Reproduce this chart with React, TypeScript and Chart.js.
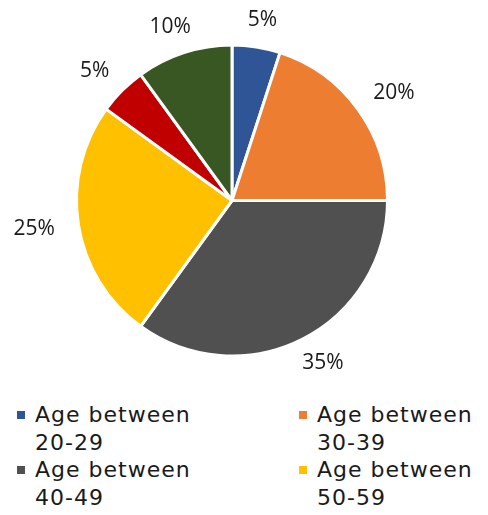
import React, { useEffect, useRef } from "react";
import { Chart, registerables } from "chart.js";

Chart.register(...registerables);

const categories = [
  "Age between 20-29",
  "Age between 30-39",
  "Age between 40-49",
  "Age between 50-59",
  "Age between 60-69",
  "Age 70+",
];
const values = [5, 20, 35, 25, 5, 10];
const colors = ["#2F5597", "#ED7D31", "#505050", "#FFC000", "#C00000", "#385723"];
const legendRows = [
  ["Age between", "20-29"],
  ["Age between", "30-39"],
  ["Age between", "40-49"],
  ["Age between", "50-59"],
];

const labelPlugin = {
  id: "outLabels",
  afterDatasetsDraw(chart: any) {
    const ctx = chart.ctx;
    const meta = chart.getDatasetMeta(0);
    const total = values.reduce((a, b) => a + b, 0);
    ctx.save();
    ctx.font = "21px 'Open Sans', sans-serif";
    ctx.fillStyle = "#1a1a1a";
    ctx.textAlign = "center";
    ctx.textBaseline = "middle";
    meta.data.forEach((arc: any, i: number) => {
      const p = arc.getProps(["x", "y", "startAngle", "endAngle", "outerRadius"], true);
      const mid = (p.startAngle + p.endAngle) / 2;
      const ux = Math.cos(mid);
      const uy = Math.sin(mid);
      const text = Math.round((values[i] / total) * 100) + "%";
      const w = ctx.measureText(text).width;
      const r0 = p.outerRadius + 18;
      const x = p.x + ux * r0 + ux * (w / 2 + 6);
      const y = p.y + uy * r0 + uy * 9;
      ctx.fillText(text, x, y);
    });
    ctx.restore();
  },
};

export default function App() {
  const ref = useRef<HTMLCanvasElement>(null);
  useEffect(() => {
    const chart = new Chart(ref.current!, {
      type: "pie",
      data: {
        labels: categories,
        datasets: [
          {
            data: values,
            backgroundColor: colors,
            borderColor: "#ffffff",
            borderWidth: 3,
          },
        ],
      },
      options: {
        animation: false,
        responsive: false,
        layout: { padding: { top: 35, bottom: 43, left: 67, right: 91 } },
        plugins: {
          legend: { display: false },
          tooltip: { enabled: false },
        },
      },
      plugins: [labelPlugin],
    });
    return () => chart.destroy();
  }, []);

  return (
    <div style={{ width: 472 }}>
      <canvas ref={ref} width={472} height={393} style={{ display: "block" }} />
      <div
        style={{
          display: "grid",
          gridTemplateColumns: "282px 190px",
          fontFamily: "'DejaVu Sans', sans-serif",
          fontSize: 22,
          lineHeight: "27.5px",
          letterSpacing: 1,
          color: "#1a1a1a",
        }}
      >
        {legendRows.map((row, i) => (
          <div key={i} style={{ position: "relative", paddingLeft: 27 }}>
            <span
              style={{
                position: "absolute",
                left: 9,
                top: 10,
                width: 8,
                height: 8,
                background: colors[i],
              }}
            />
            <div>{row[0]}</div>
            <div>{row[1]}</div>
          </div>
        ))}
      </div>
    </div>
  );
}
